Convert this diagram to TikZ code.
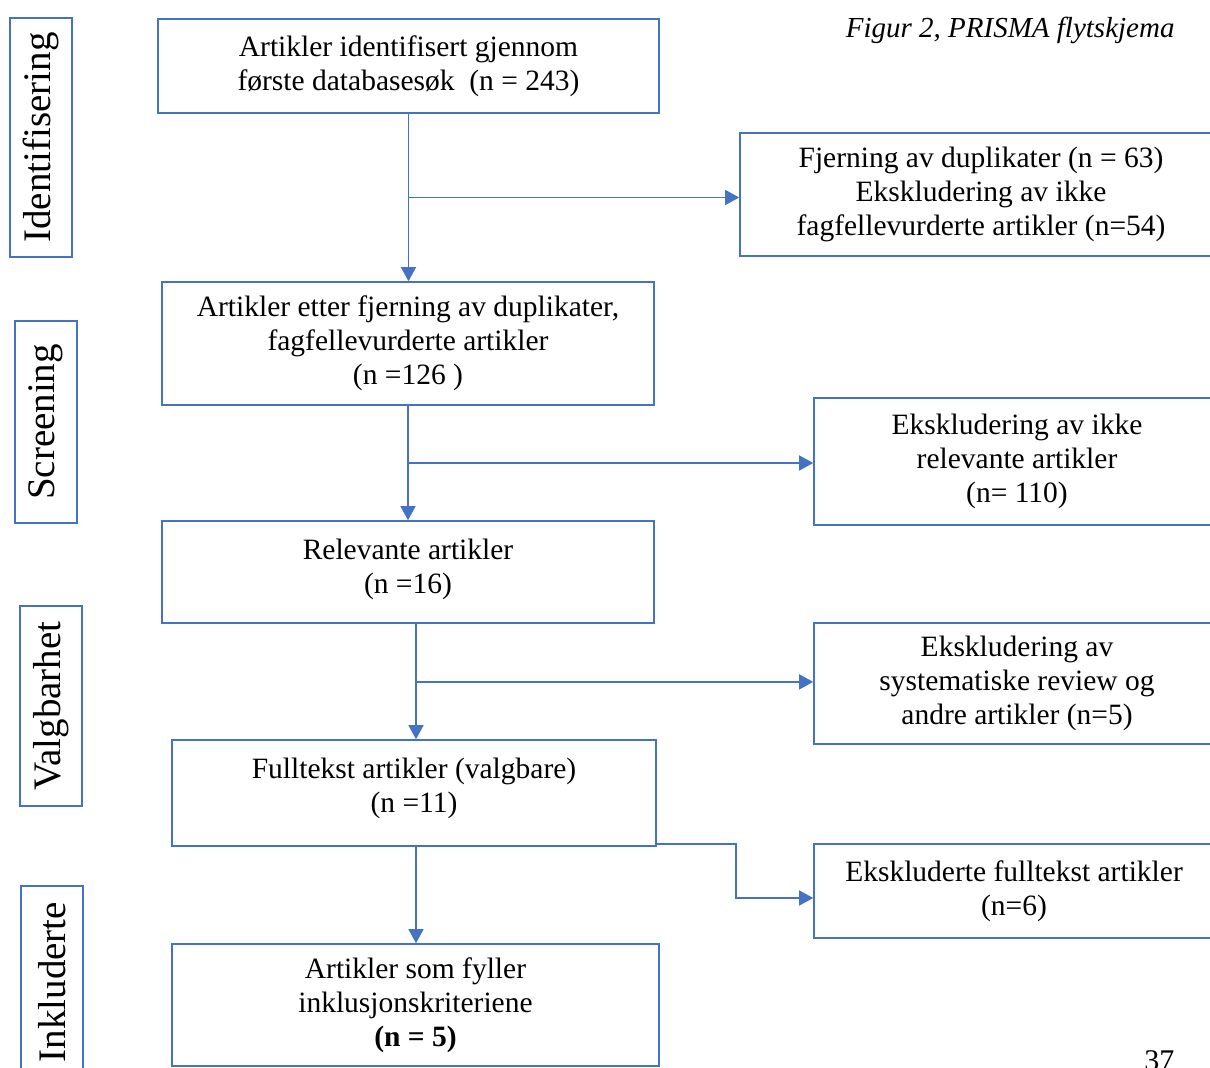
\documentclass[tikz,border=0pt]{standalone}
\usepackage{fontspec}
\setmainfont{Liberation Serif}
\usetikzlibrary{arrows.meta,calc}
\definecolor{boxblue}{HTML}{4472C4}

\begin{document}
\begin{tikzpicture}[x=1pt,y=-1pt,
    box/.style={draw=boxblue,line width=1.6pt,align=center,inner sep=0pt,
      font=\fontsize{29.5}{34}\selectfont},
    phase/.style={draw=boxblue,line width=1.6pt,inner sep=0pt,rotate=90,
      font=\fontsize{39}{42}\selectfont},
    arr/.style={draw=boxblue,line width=1.4pt,-{Triangle[length=14pt,width=15pt]}}]
   \clip (0,0) rectangle (1210,1068);
   % phases on the left
   \node[phase,minimum width=239,minimum height=62] (ph_0) at (41,137.5) {Identifisering};
   \node[phase,minimum width=202,minimum height=62] (ph_1) at (46,422) {Screening};
   \node[phase,minimum width=200,minimum height=62] (ph_2) at (51,706) {Valgbarhet};
   \node[phase,minimum width=192,minimum height=62] (ph_3) at (52,982) {Inkluderte};
   % main column
   \node[box,minimum width=501,minimum height=94] (a_0) at (408.5,66)
      {Artikler identifisert gjennom\\første databasesøk\ \ (n = 243)};
   \node[box,minimum width=492,minimum height=123] (a_1) at (408,343.5)
      {Artikler etter fjerning av duplikater,\\fagfellevurderte artikler\\(n =126 )};
   \node[box,minimum width=492,minimum height=102,text depth=12pt] (a_2) at (408,572)
      {Relevante artikler\\(n =16)};
   \node[box,minimum width=484,minimum height=106,text depth=16pt] (a_3) at (414,793)
      {Fulltekst artikler (valgbare)\\(n =11)};
   \node[box,minimum width=487,minimum height=122] (a_4) at (415.5,1005)
      {Artikler som fyller\\inklusjonskriteriene\\\textbf{(n = 5)}};
   % excluded
   \node[box,minimum width=482,minimum height=123] (e_0) at (981,194.5)
      {Fjerning av duplikater (n = 63)\\Ekskludering av ikke\\fagfellevurderte artikler (n=54)};
   \node[box,minimum width=406,minimum height=127] (e_1) at (1017,461.5)
      {Ekskludering av ikke\\relevante artikler\\(n= 110)};
   \node[box,minimum width=406,minimum height=121] (e_2) at (1017,683.5)
      {Ekskludering av\\systematiske review og\\andre artikler (n=5)};
   \node[box,minimum width=400,minimum height=94] (e_3) at (1014,891)
      {Ekskluderte fulltekst artikler\\(n=6)};
   % title and page number
   \node[anchor=base east,font=\itshape\fontsize{29}{32}\selectfont] (title) at (1178,37)
      {Figur 2, PRISMA flytskjema};
   \node[anchor=base east,font=\fontsize{30}{32}\selectfont] (page) at (1178,1070) {37};
   % arrows
   \coordinate (m_0) at ($(a_0.south)!0.5!(a_0.south |- a_1.north)$);
   \coordinate (m_1) at ($(a_1.south)!0.5!(a_1.south |- a_2.north)$);
   \coordinate (m_2) at ($(a_2.south -| 416,0)!0.5!(416,740)$);
   \path[arr]
    (a_0.south) -- (a_0.south |- a_1.north);
   \path[arr] (m_0) -- (m_0 -| e_0.west);
   \path[arr] (a_1.south) -- (a_1.south |- a_2.north);
   \path[arr] (m_1) -- (m_1 -| e_1.west);
   \path[arr] (a_2.south -| 416,0) -- (416,0 |- a_3.north);
   \path[arr] (m_2) -- (m_2 -| e_2.west);
   \path[arr] (a_3.south -| 416,0) -- (416,0 |- a_4.north);
   \path[arr] ([yshift=3pt]a_3.south east) -- ++(79,0) |- ([yshift=-7pt]e_3.west);
\end{tikzpicture}
\end{document}
